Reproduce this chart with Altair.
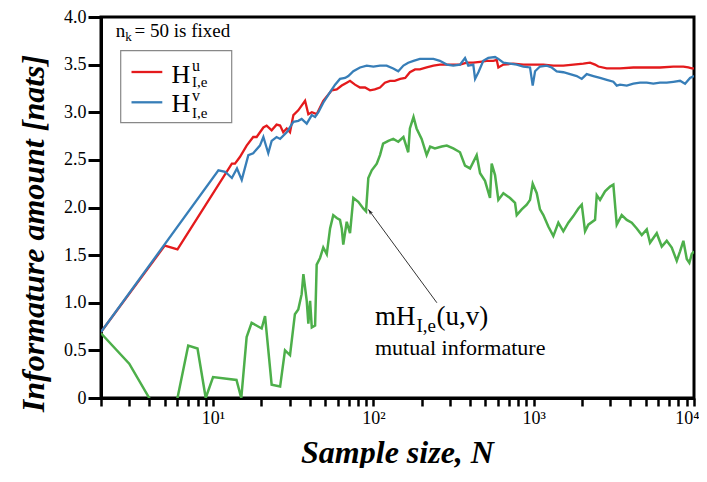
import altair as alt
import pandas as pd

# ---------------- data ----------------
red_N = [2, 5, 6, 13.1, 13.7, 14.7, 16.2, 17.8, 18.7, 20.6, 21.6, 23.2, 24.9, 26.2, 27.4, 28.8,
         30.2, 31.7, 34.0, 37.5, 39.3, 41.3, 44.3, 48.7, 55.0, 59.1, 63.5, 68.2, 71.5, 76.8,
         82.5, 88.7, 95.3, 102, 110, 118, 127, 136, 147, 158, 169, 182, 195, 215, 237, 260,
         287, 315, 347, 382, 420, 463, 509, 560, 588, 602, 647, 746, 862, 995, 1149, 1326,
         1531, 1768, 2040, 2246, 2414, 2532, 2856, 3457, 4185, 5074, 6140, 7432, 8584, 9220,
         9681, 10000]
red_v = [0.693, 1.60, 1.56, 2.46, 2.46, 2.53, 2.65, 2.74, 2.74, 2.84, 2.86, 2.81, 2.87, 2.86,
         2.79, 2.83, 2.79, 2.97, 3.02, 3.12, 2.98, 3.00, 2.98, 3.12, 3.23, 3.24, 3.28, 3.31,
         3.33, 3.29, 3.26, 3.26, 3.23, 3.24, 3.26, 3.31, 3.33, 3.33, 3.35, 3.36, 3.42, 3.45,
         3.45, 3.47, 3.49, 3.50, 3.50, 3.50, 3.50, 3.52, 3.52, 3.53, 3.54, 3.54, 3.55, 3.47,
         3.50, 3.51, 3.50, 3.50, 3.50, 3.49, 3.49, 3.50, 3.51, 3.52, 3.50, 3.48, 3.46, 3.46,
         3.47, 3.47, 3.47, 3.48, 3.48, 3.47, 3.46, 3.46]

blue_N = [2, 10.8, 11.9, 13.1, 14.1, 15.1, 16.6, 17.8, 19.6, 20.6, 22.1, 23.2, 24.9, 26.2,
          28.8, 31.7, 34.0, 35.7, 38.4, 41.3, 43.3, 45.4, 48.7, 53.7, 57.7, 61.9, 66.6, 69.8,
          75.0, 82.5, 90.9, 100, 110, 121, 133, 143, 154, 165, 178, 195, 215, 237, 260, 287,
          315, 347, 373, 391, 420, 431, 452, 485, 521, 574, 602, 647, 712, 784, 862, 949, 986,
          1020, 1095, 1206, 1296, 1393, 1531, 1686, 1856, 1995, 2142, 2356, 2594, 2856, 3140,
          3297, 3457, 3807, 4185, 4608, 5074, 5576, 6140, 6761, 7432, 8185, 8794, 9447, 10000]
blue_v = [0.693, 2.39, 2.375, 2.31, 2.41, 2.29, 2.55, 2.57, 2.65, 2.74, 2.57, 2.70, 2.74, 2.72,
          2.79, 2.90, 2.91, 2.93, 2.88, 2.97, 2.95, 3.00, 3.10, 3.21, 3.29, 3.35, 3.36, 3.38,
          3.43, 3.47, 3.49, 3.48, 3.49, 3.49, 3.46, 3.43, 3.49, 3.52, 3.54, 3.56, 3.56, 3.56,
          3.54, 3.50, 3.49, 3.50, 3.57, 3.49, 3.50, 3.35, 3.42, 3.54, 3.57, 3.58, 3.56, 3.52,
          3.51, 3.50, 3.48, 3.47, 3.28, 3.43, 3.48, 3.49, 3.47, 3.43, 3.42, 3.40, 3.38, 3.35,
          3.40, 3.38, 3.36, 3.34, 3.32, 3.28, 3.29, 3.28, 3.30, 3.31, 3.31, 3.30, 3.31, 3.31,
          3.32, 3.33, 3.30, 3.36, 3.38]

green_N = [2, 3, 4, 5, 6, 7, 8, 9, 10, 14, 15, 16.2, 17.4, 20.1, 21.1, 23.2, 26.2, 28.1, 30.2,
           32.4, 34.0, 35.7, 36.6, 38.4, 39.3, 40.3, 41.3, 43.3, 44.3, 46.5, 48.7, 51.2, 53.7,
           56.2, 59.1, 61.9, 63.5, 64.9, 68.2, 71.5, 75.0, 80.5, 86.5, 90.0, 93.0, 97.7, 105,
           110, 115, 124, 133, 143, 154, 165, 169, 178, 186, 200, 215, 226, 242, 267, 287, 315,
           347, 373, 401, 441, 463, 497, 534, 547, 574, 602, 647, 712, 765, 784, 842, 905, 949,
           986, 1045, 1095, 1149, 1234, 1326, 1425, 1531, 1645, 1768, 1900, 1995, 2091, 2192,
           2414, 2474, 2594, 2787, 2995, 3140, 3297, 3542, 3807, 4090, 4395, 4722, 5074, 5318,
           5856, 6293, 6761, 7264, 7806, 8185, 8584, 9013, 9354, 9681, 10000]
green_v = [0.68, 0.36, 0.0, -0.3, 0.0, 0.55, 0.52, 0.0, 0.22, 0.19, 0.0, 0.64, 0.79, 0.73, 0.86,
           0.14, 0.12, 0.50, 0.45, 0.88, 0.93, 1.09, 1.30, 1.02, 0.78, 1.02, 0.74, 0.76, 1.40,
           1.47, 1.58, 1.51, 1.78, 1.92, 1.89, 1.87, 1.78, 1.61, 1.85, 1.73, 2.10, 2.06, 1.99,
           1.96, 2.31, 2.39, 2.46, 2.55, 2.67, 2.70, 2.72, 2.69, 2.74, 2.58, 2.83, 2.95, 2.83,
           2.72, 2.55, 2.64, 2.62, 2.64, 2.65, 2.62, 2.58, 2.44, 2.41, 2.55, 2.36, 2.28, 2.10,
           2.46, 2.34, 2.08, 2.15, 2.10, 2.05, 1.92, 1.98, 2.03, 2.08, 2.25, 2.15, 1.98, 1.92,
           1.80, 1.70, 1.84, 1.75, 1.84, 1.91, 1.99, 2.03, 1.75, 1.82, 1.87, 2.13, 2.08, 2.17,
           2.22, 2.24, 1.82, 1.92, 1.87, 1.84, 1.78, 1.71, 1.77, 1.63, 1.73, 1.59, 1.65, 1.58,
           1.44, 1.54, 1.65, 1.46, 1.42, 1.51, 1.54]

x_ticks = [2, 3, 4, 5, 6, 7, 8, 9, 10, 20, 30, 40, 50, 60, 70, 80, 90, 100, 200, 300, 400,
           500, 600, 700, 800, 900, 1000, 2000, 3000, 4000, 5000, 6000, 7000, 8000, 9000, 10000]
y_ticks = [0, 0.5, 1.0, 1.5, 2.0, 2.5, 3.0, 3.5, 4.0]

arrow_tail = (249, 1.00)
arrow_head = (93, 1.98)

RED, BLUE, GREEN = "#e41a1c", "#377eb8", "#4daf4a"
FONT = "Liberation Serif, Times New Roman, serif"

# ---------------- encodings ----------------
x_lab = ("datum.value == 10 ? '10\u00b9' : datum.value == 100 ? '10\u00b2' : "
         "datum.value == 1000 ? '10\u00b3' : datum.value == 10000 ? '10\u2074' : ''")
x_scale = alt.Scale(type="log", domain=[2, 10000])
y_scale = alt.Scale(domain=[0, 4])
x_enc = alt.X("N:Q", scale=x_scale,
              axis=alt.Axis(values=x_ticks, labelExpr=x_lab, title="Sample size, N",
                            titleFont=FONT, titleFontSize=32, titleFontStyle="italic",
                            titleFontWeight="bold", titleColor="black",
                            titleX=296, titleY=64, titleBaseline="alphabetic", titleAlign="center",
                            tickSize=8, tickWidth=2.5, tickColor="black",
                            domainWidth=3, domainColor="black",
                            labelFont=FONT, labelFontSize=18, labelColor="black",
                            labelPadding=3, labelFlush=True, labelFlushOffset=5,
                            labelOverlap=False, grid=False))
y_enc = alt.Y("v:Q", scale=y_scale,
              axis=alt.Axis(values=y_ticks,
                            labelExpr="datum.value == 0 ? '0' : format(datum.value, '.1f')",
                            title="Informature amount [nats]",
                            titleFont=FONT, titleFontSize=32, titleFontStyle="italic",
                            titleFontWeight="bold", titleColor="black",
                            titleX=-58, titleY=216, titleBaseline="alphabetic", titleAlign="center",
                            titleAngle=270,
                            tickSize=13, tickWidth=3, tickColor="black",
                            domainWidth=3, domainColor="black",
                            labelFont=FONT, labelFontSize=18, labelColor="black",
                            labelPadding=2, grid=False))

def series(Ns, vs, color, width):
    df = pd.DataFrame({"N": Ns, "v": vs})
    return alt.Chart(df).mark_line(color=color, strokeWidth=width, clip=True).encode(x=x_enc, y=y_enc)

red = series(red_N, red_v, RED, 2.3)
blue = series(blue_N, blue_v, BLUE, 2.3)
green = series(green_N, green_v, GREEN, 2.5)

arrow_df = pd.DataFrame({"N": [arrow_tail[0]], "v": [arrow_tail[1]],
                         "N2": [arrow_head[0]], "v2": [arrow_head[1]]})
arrow = alt.Chart(arrow_df).mark_rule(color="#333333", strokeWidth=1).encode(
    x=x_enc, y=y_enc, x2="N2:Q", y2="v2:Q")
head_df = pd.DataFrame({"N": [arrow_head[0]], "v": [arrow_head[1]]})
head = alt.Chart(head_df).mark_point(
    shape="M0,0 L-0.45,1.3 L0,1.0 L0.45,1.3 Z", filled=True, color="#222222",
    size=70, angle=323.5, opacity=1).encode(x=x_enc, y=y_enc)

one = pd.DataFrame({"k": [0]})

def txt(s, x, y, size, align="left"):
    return alt.Chart(one).mark_text(text=s, align=align, baseline="alphabetic", font=FONT,
                                    fontSize=size, color="black").encode(
        x=alt.value(x), y=alt.value(y))

legend_box = alt.Chart(one).mark_rect(fill="white", stroke="#888888", strokeWidth=1.2).encode(
    x=alt.value(19.7), x2=alt.value(130.7), y=alt.value(33.7), y2=alt.value(105.7))
leg_red = alt.Chart(one).mark_rule(color=RED, strokeWidth=2.3).encode(
    x=alt.value(30.5), x2=alt.value(61.3), y=alt.value(55))
leg_blue = alt.Chart(one).mark_rule(color=BLUE, strokeWidth=2.3).encode(
    x=alt.value(30.5), x2=alt.value(61.3), y=alt.value(85.3))

texts = [
    txt("n", 14.7, 19.7, 19), txt("k", 24.2, 23.5, 13), txt("= 50 is fixed", 33.5, 19.7, 19),
    txt("H", 70.5, 65.7, 26), txt("u", 91, 54, 16), txt("I,e", 91, 70, 15),
    txt("H", 70.5, 94.7, 26), txt("v", 91, 84, 16), txt("I,e", 91, 100.5, 15),
    txt("mH", 274, 308, 27), txt("I,e", 315.5, 315, 19), txt("(u,v)", 335.5, 308, 27),
    txt("mutual informature", 274, 338, 22),
]

chart = alt.layer(red, blue, green, arrow, head, legend_box, leg_red, leg_blue, *texts).properties(
    width=593, height=381,
    padding={"left": 93, "top": 9, "right": 5, "bottom": 70},
    autosize=alt.AutoSizeParams(type="none"),
).configure(background="white", font=FONT).configure_view(
    stroke="black", strokeWidth=3).configure_axis(labelFont=FONT, titleFont=FONT)

chart.save("out.html", embed_options={"renderer": "svg", "actions": False})
